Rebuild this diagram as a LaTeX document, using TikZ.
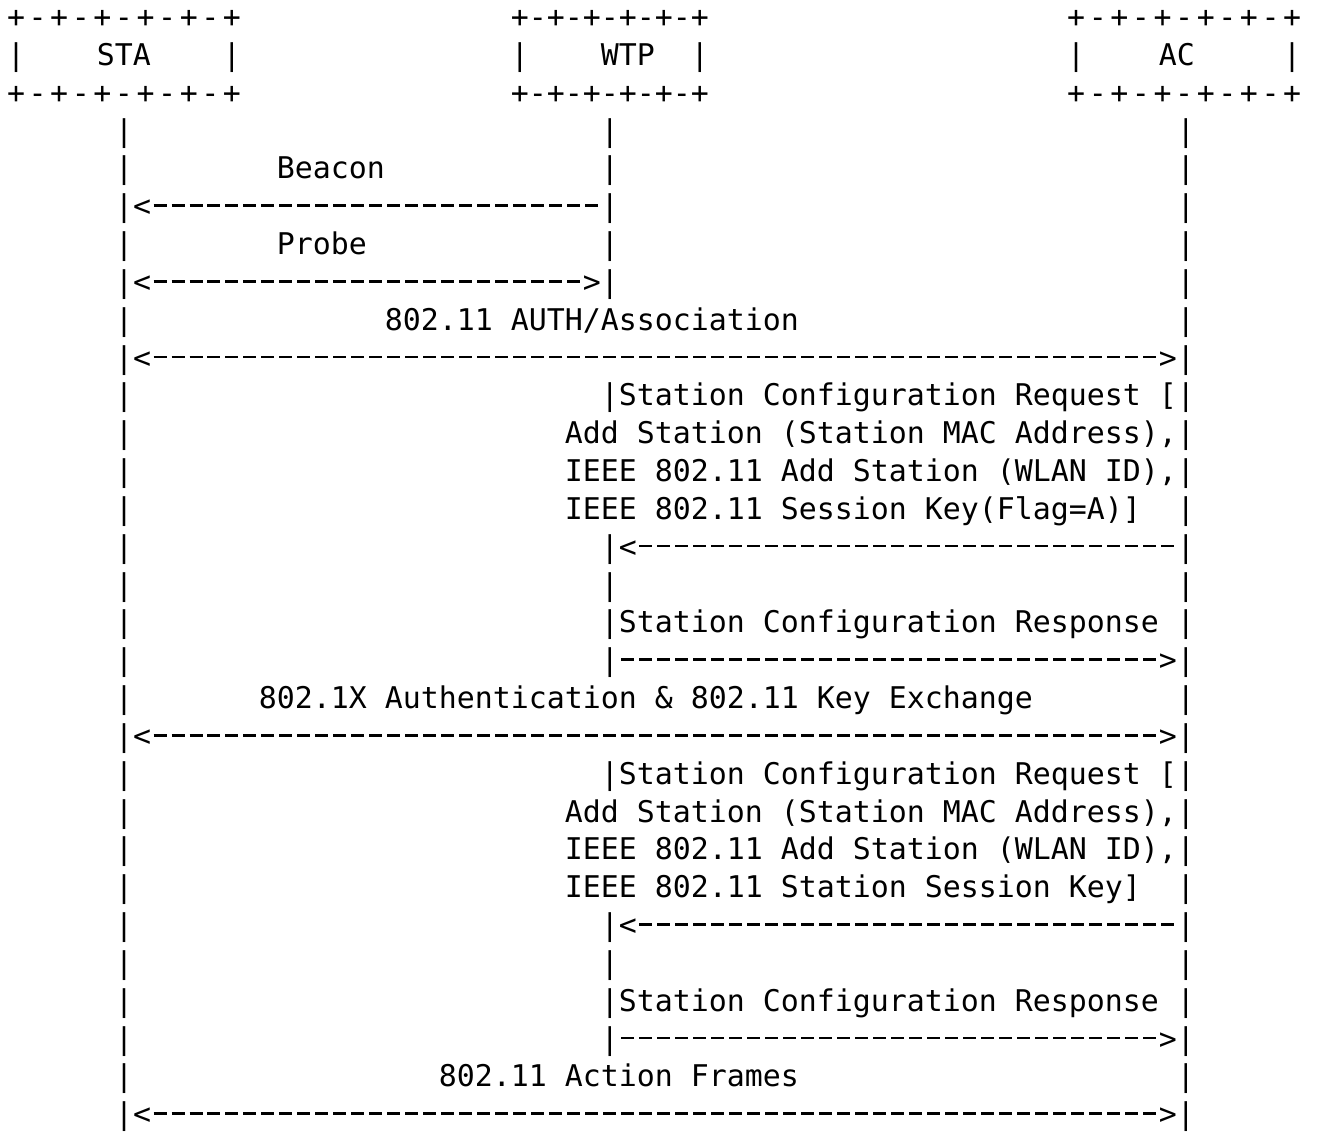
\documentclass[tikz,border=0pt]{standalone}
\usepackage{fontspec}
\setmonofont{DejaVu Sans Mono}
\usetikzlibrary{positioning}
\tikzstyle{ascii} = [font=\ttfamily\fontsize{29.9}{36}\selectfont, inner sep=0pt, outer sep=0pt, anchor=base west]
\tikzstyle{rim} = [ascii, anchor=base]
\newcommand{\dashglyph}{\makebox[18pt][c]{\rule[9.8pt]{13pt}{2.6pt}}}
\newcommand{\dashrun}[1]{\ifnum#1>0 \dashglyph\expandafter\dashrun\expandafter{\number\numexpr#1-1\relax}\fi}

\begin{document}
\begin{tikzpicture}[x=18pt, y=-37.83pt]
  \fill[white] (-0.389,0.27) rectangle (72.78,30.19);
  \useasboundingbox (-0.389,0.27) rectangle (72.78,30.19);
  % the three boxes
  \foreach \cx/\p/\n in {6.5/1.2/sta, 33.5/1/wtp, 65.4/1.2/ac} {
    \foreach \i in {-5,-3,...,5} {
      \node[rim] (\n-t\i) at ({\cx+\p*\i},1) {+};
      \node[rim] (\n-b\i) at ({\cx+\p*\i},3) {+};
    }
    \foreach \i in {-4,-2,...,4} {
      \node[rim] (\n-tt\i) at ({\cx+\p*\i},1) {-};
      \node[rim] (\n-bb\i) at ({\cx+\p*\i},3) {-};
    }
    \node[rim] (\n-l) at ({\cx-5*\p},2) {|};
    \node[rim] (\n-r) at ({\cx+5*\p},2) {|};
  }
  \node[rim] (sta) at (6.5,2) {STA};
  \node[rim] (wtp) at (34.5,2) {WTP};
  \node[rim] (ac) at (65,2) {AC};
  % lifelines
  \foreach \r in {4,...,30} {
    \node[ascii] (s\r) at (6,\r) {|};
    \node[ascii] (a\r) at (65,\r) {|};
  }
  \foreach \r in {4,5,6,7,8,11,15,16,17,18,21,25,26,27,28}
    \node[ascii] (w\r) at (33,\r) {|};
  % messages
  \node[ascii] (beacon) at (15,5) {Beacon};
  \node[ascii, base right=0pt of s6] (beacon-line) {<\dashrun{25}};
  \node[ascii] (probe) at (15,7) {Probe};
  \node[ascii, base right=0pt of s8] (probe-line) {<\dashrun{24}>};
  \node[ascii] (auth) at (21,9) {802.11 AUTH/Association};
  \node[ascii, base right=0pt of s10] (auth-line) {<\dashrun{56}>};
  \node[ascii, base right=0pt of w11] (req1) {Station Configuration Request [};
  \node[ascii] (req1-b) at (31,12) {Add Station (Station MAC Address),};
  \node[ascii] (req1-c) at (31,13) {IEEE 802.11 Add Station (WLAN ID),};
  \node[ascii] (req1-d) at (31,14) {IEEE 802.11 Session Key(Flag=A)]};
  \node[ascii, base right=0pt of w15] (req1-line) {<\dashrun{30}};
  \node[ascii, base right=0pt of w17] (rsp1) {Station Configuration Response};
  \node[ascii, base right=0pt of w18] (rsp1-line) {\dashrun{30}>};
  \node[ascii] (eap) at (14,19) {802.1X Authentication \& 802.11 Key Exchange};
  \node[ascii, base right=0pt of s20] (eap-line) {<\dashrun{56}>};
  \node[ascii, base right=0pt of w21] (req2) {Station Configuration Request [};
  \node[ascii] (req2-b) at (31,22) {Add Station (Station MAC Address),};
  \node[ascii] (req2-c) at (31,23) {IEEE 802.11 Add Station (WLAN ID),};
  \node[ascii] (req2-d) at (31,24) {IEEE 802.11 Station Session Key]};
  \node[ascii, base right=0pt of w25] (req2-line) {<\dashrun{30}};
  \node[ascii, base right=0pt of w27] (rsp2) {Station Configuration Response};
  \node[ascii, base right=0pt of w28] (rsp2-line) {\dashrun{30}>};
  \node[ascii] (action) at (24,29) {802.11 Action Frames};
  \node[ascii, base right=0pt of s30] (action-line) {<\dashrun{56}>};
\end{tikzpicture}
\end{document}
